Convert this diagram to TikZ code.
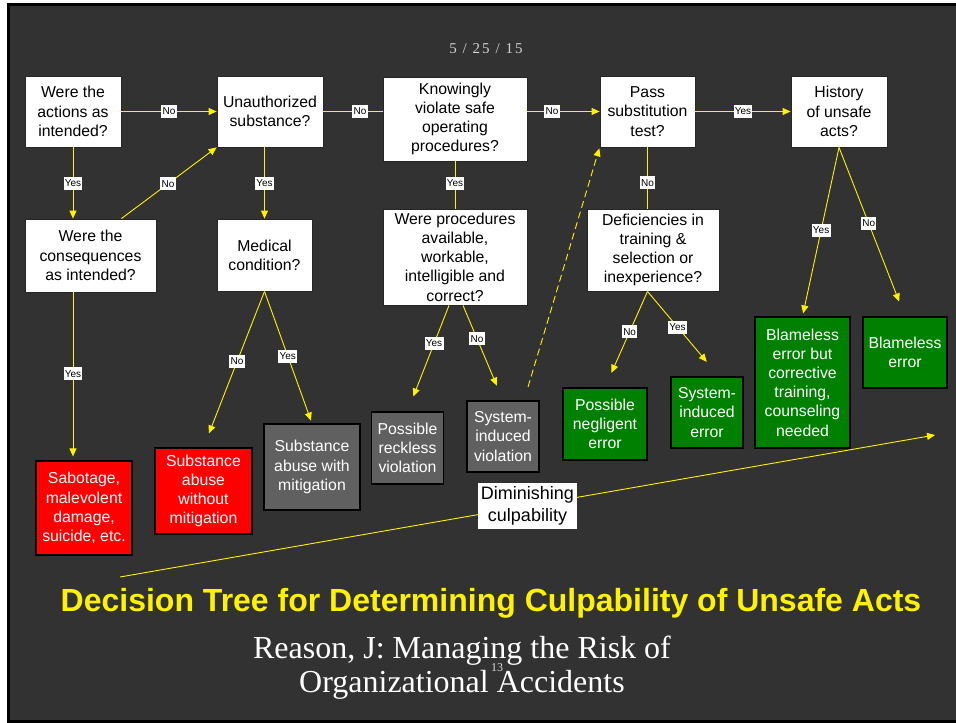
\documentclass[tikz,border=0pt]{standalone}
\usepackage{fontspec}
\setmainfont{Liberation Sans}
\newfontfamily\timesfont{Liberation Serif}
\newfontfamily\datefont{Liberation Serif}[LetterSpace=14]
\usepackage{tikz}
\usetikzlibrary{shapes,arrows.meta,positioning,calc}
\usepackage{xcolor}

\definecolor{slidebg}{HTML}{323232}
\definecolor{boxgray}{HTML}{606060}
\definecolor{okgreen}{HTML}{008000}
\definecolor{datetext}{HTML}{D0D0D0}

\begin{document}
\begin{tikzpicture}[x=1pt, y=-1pt,
        question/.style={draw=black!85, line width=0.8pt, fill=white, text=black, align=center,
            inner sep=0pt, font=\fontsize{15.8}{19.2}\selectfont},
        outcome/.style={draw=black, line width=1.2pt, text=white, align=center,
            inner sep=0pt, font=\fontsize{15.8}{19.2}\selectfont},
        redbox/.style={outcome, fill=red},
        graybox/.style={outcome, fill=boxgray},
        greenbox/.style={outcome, fill=okgreen},
        flow/.style={draw=yellow, line width=0.9pt, -{Triangle[length=8pt,width=7pt]}},
        plain/.style={draw=yellow, line width=0.9pt},
        answer/.style={fill=white, text=black, inner xsep=1.3pt, inner ysep=0pt,
            minimum height=13pt, font=\fontsize{10}{11}\selectfont}
    ]
        % Slide frame and background
        \useasboundingbox (0,0) rectangle (956,723);
        \fill[white] (0,0) rectangle (956,723);
        \fill[black] (7,3) rectangle (956,723);
        \fill[slidebg] (10,6) rectangle (956,720);

        \node[text=datetext, font=\datefont\fontsize{15}{15}\selectfont] (date) at (486,49) {5 / 25 / 15};

        % Questions
        \node[question, minimum width=96pt, minimum height=71pt] (acts) at (73,111.5) {Were the\\actions as\\intended?};
        \node[question, minimum width=106pt, minimum height=71pt] (subst) at (270,111.5) {Unauthorized\\substance?};
        \node[question, minimum width=144pt, minimum height=84pt] (knowing) at (455,119) {Knowingly\\violate safe\\operating\\procedures?};
        \node[question, minimum width=95pt, minimum height=71pt] (subtest) at (647.5,111.5) {Pass\\substitution\\test?};
        \node[question, minimum width=96pt, minimum height=71pt] (history) at (839,111.5) {History\\of unsafe\\acts?};
        \node[question, minimum width=131pt, minimum height=73pt] (conseq) at (90.5,255.5) {Were the\\consequences\\as intended?};
        \node[question, minimum width=95pt, minimum height=72pt] (medical) at (264.5,255) {Medical\\condition?};
        \node[question, minimum width=144pt, minimum height=96pt] (procs) at (455,257) {Were procedures\\available,\\workable,\\intelligible and\\correct?};
        \node[question, minimum width=132pt, minimum height=82pt] (deficient) at (653,250) {Deficiencies in\\training \&\\selection or\\inexperience?};

        % Outcomes
        \node[redbox, minimum width=96pt, minimum height=94pt] (sabotage) at (84,508) {Sabotage,\\malevolent\\damage,\\suicide, etc.};
        \node[redbox, minimum width=97pt, minimum height=86pt] (abusenomit) at (203.5,491) {Substance\\abuse\\without\\mitigation};
        \node[graybox, minimum width=96pt, minimum height=86pt] (abusemit) at (312,467) {Substance\\abuse with\\mitigation};
        \node[graybox, minimum width=72pt, minimum height=72pt] (reckless) at (407.5,448) {Possible\\reckless\\violation};
        \node[graybox, minimum width=72pt, minimum height=71pt] (sysviol) at (503,436.5) {System-\\induced\\violation};
        \node[greenbox, minimum width=84pt, minimum height=72pt] (negligent) at (605,424) {Possible\\negligent\\error};
        \node[greenbox, minimum width=72pt, minimum height=71pt] (syserr) at (707,412.5) {System-\\induced\\error};
        \node[greenbox, minimum width=95pt, minimum height=131pt] (blamecorr) at (802.5,382.5) {Blameless\\error but\\corrective\\training,\\counseling\\needed};
        \node[greenbox, minimum width=84pt, minimum height=71pt] (blameless) at (905,352.5) {Blameless\\error};

        % Top row
        \draw[flow] (acts.east) -- (subst.west) node[answer, pos=0.5] {No};
        \draw[plain] (subst.east) -- (subst.east -| knowing.west) node[answer, pos=0.62] {No};
        \draw[flow] (knowing.east |- subtest.west) -- (subtest.west) node[answer, pos=0.34] {No};
        \draw[flow] (subtest.east) -- (history.west) node[answer, pos=0.5] {Yes};

        % Left branches
        \draw[flow] (acts.south) -- (acts.south |- conseq.north) node[answer, pos=0.5] {Yes};
        \draw[flow] (acts.east |- conseq.north) -- (subst.south west) node[answer, pos=0.49] {No};
        \draw[flow, shorten >=4pt] (acts.south |- conseq.south) -- (acts.south |- sabotage.north) node[answer, pos=0.485] {Yes};
        \draw[flow] (medical.north |- subst.south) -- (medical.north) node[answer, pos=0.5] {Yes};
        \draw[flow, shorten >=15pt] (medical.south) -- (abusenomit.north) node[answer, pos=0.45] {No};
        \draw[flow, shorten >=3pt] (medical.south) -- (abusemit.north) node[answer, pos=0.49] {Yes};

        % Middle branches
        \draw[plain] (knowing.south) -- (procs.north) node[answer, pos=0.46] {Yes};
        \draw[flow, shorten >=16pt] ([xshift=-6pt]procs.south) -- (reckless.north) node[answer, pos=0.36] {Yes};
        \draw[flow, shorten >=16pt] ([xshift=8pt]procs.south) -- (sysviol.north) node[answer, pos=0.35] {No};
        \draw[flow, dash pattern=on 7pt off 4pt, shorten <=14pt, shorten >=1pt] ([xshift=21pt]sysviol.north) -- (subtest.south west);

        % Right branches
        \draw[plain] (subtest.south) -- (subtest.south |- deficient.north) node[answer, pos=0.58] {No};
        \draw[flow, shorten >=16pt] (subtest.south |- deficient.south) -- (negligent.north) node[answer, pos=0.42] {No};
        \draw[flow, shorten >=19pt] (subtest.south |- deficient.south) -- ([xshift=12pt]syserr.north) node[answer, pos=0.42] {Yes};
        \draw[flow, shorten >=3pt] (history.south) -- (blamecorr.north) node[answer, pos=0.49] {Yes};
        \draw[flow, shorten >=16pt] (history.south) -- (blameless.north) node[answer, pos=0.45] {No};

        % Culpability scale
        \coordinate (lowend) at (120,577);
        \coordinate (highend) at (935,435);
        \draw[flow] (lowend) -- (highend);
        \node[fill=white, align=center, inner sep=0pt, minimum width=99pt, minimum height=46pt,
            font=\fontsize{18}{21.5}\selectfont] (dimin) at ($(lowend)!0.5!(highend)$) {Diminishing\\culpability};

        % Title and source
        \node[text=yellow, font=\bfseries\fontsize{32}{36}\selectfont] (title) at (491,603) {Decision Tree for Determining Culpability of Unsafe Acts};
        \node[text=white, align=center, font=\timesfont\fontsize{32}{34.3}\selectfont] (source) at (462,668) {Reason, J: Managing the Risk of\\Organizational Accidents};
        \node[text=white!85!black, font=\timesfont\fontsize{12}{12}\selectfont] (pageno) at (497,668) {13};
    \end{tikzpicture}
\end{document}
